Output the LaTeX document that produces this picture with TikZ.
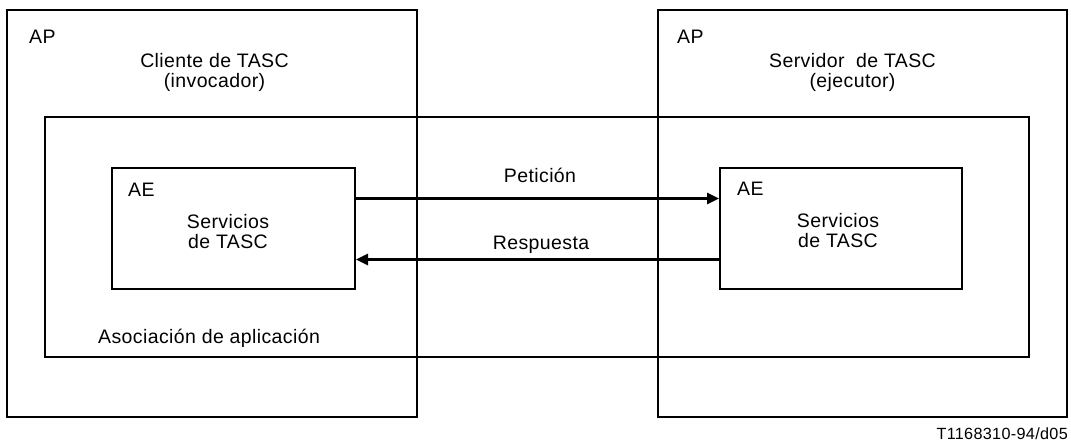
\documentclass[tikz,border=0pt]{standalone}
\usepackage{fontspec}
\setmainfont{Liberation Sans}[LetterSpace=2]
\usetikzlibrary{arrows.meta,calc}
\begin{document}
\begin{tikzpicture}[x=1pt,y=-1pt,
  box/.style={draw,line width=2pt,inner sep=0,minimum width=#1},
  lbl/.style={inner sep=0,font=\fontsize{19.5}{20}\selectfont,anchor=base},
  lblw/.style={lbl,anchor=base west},
  arr/.style={line width=2.6pt,-{Triangle[length=12pt,width=11pt]}}]
\useasboundingbox (0,0) rectangle (1071,446);
\node[box=410pt,minimum height=407pt] (apl) at (212,213.5) {};
\node[box=409pt,minimum height=407pt] (apr) at (862.5,213.5) {};
\node[box=984pt,minimum height=240pt] (assoc) at (537,237) {};
\node[box=243pt,minimum height=121pt] (ael) at (233.5,228.5) {};
\node[box=242pt,minimum height=121pt] (aer) at (841,228.5) {};
\node[lblw] (apltxt) at (29,44) {AP};
\node[lblw] (aprtxt) at (677,44) {AP};
\node[lbl] (cli1) at (214.5,68) {Cliente de TASC};
\node[lbl] (cli2) at (214.5,88) {(invocador)};
\node[lbl] (srv1) at (852.5,68) {Servidor \ de TASC};
\node[lbl] (srv2) at (852.5,88) {(ejecutor)};
\node[lblw] (aeltxt) at (128,197) {AE};
\node[lblw] (aertxt) at (737,196) {AE};
\node[lbl] (sl1) at (228,228.5) {Servicios};
\node[lbl] (sl2) at (228,248.5) {de TASC};
\node[lbl] (sr1) at (838,228) {Servicios};
\node[lbl] (sr2) at (838,248) {de TASC};
\node[lblw] (asoc) at (98,343) {Asociación de aplicación};
\coordinate (p1) at ($(ael.north east)!0.256!(ael.south east)$);
\coordinate (p2) at ($(aer.north west)!0.256!(aer.south west)$);
\coordinate (r1) at ($(aer.north west)!0.752!(aer.south west)$);
\coordinate (r2) at ($(ael.north east)!0.752!(ael.south east)$);
\draw[arr] (p1) -- (p2);
\draw[arr] (r1) -- (r2);
\node[lbl] (pet) at (540,183) {Petición};
\node[lbl] (resp) at (541,250) {Respuesta};
\node[inner sep=0,font=\fontsize{16.2}{18}\selectfont,anchor=base east] (ref) at (1068,439) {T1168310-94/d05};
\end{tikzpicture}
\end{document}
